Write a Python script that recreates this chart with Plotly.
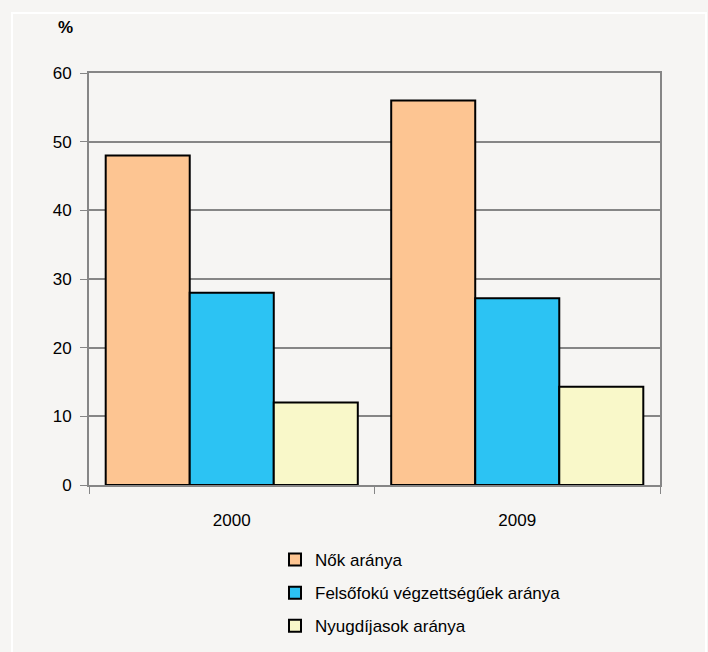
import plotly.graph_objects as go

# Chart data
years = ["2000", "2009"]
nok_aranya = [48, 56]
felsofoku_aranya = [28, 27.2]
nyugdijasok_aranya = [12, 14.3]

series_names = ["Nők aránya", "Felsőfokú végzettségűek aránya", "Nyugdíjasok aránya"]
series_values = [nok_aranya, felsofoku_aranya, nyugdijasok_aranya]
series_colors = ["#fdc592", "#2cc3f3", "#f9f8c9"]

y_ticks = [0, 10, 20, 30, 40, 50, 60]

BG = "#f6f5f3"
GRID = "#868686"
FONT = "Liberation Sans, Arial, sans-serif"

fig = go.Figure()
for i, (name, vals, col) in enumerate(zip(series_names, series_values, series_colors)):
    fig.add_trace(go.Bar(
        x=years, y=vals, name=name, legendgroup=f"g{i}",
        marker=dict(color=col, line=dict(color="#000000", width=2)),
    ))

fig.update_layout(
    width=708, height=652,
    margin=dict(l=89, r=48, t=73, b=167, autoexpand=False),
    paper_bgcolor=BG, plot_bgcolor=BG,
    barmode="group", bargap=0.117, bargroupgap=0,
    font=dict(family=FONT, size=17, color="#000000"),
    showlegend=True,
    legend=dict(
        xref="container", yref="container",
        x=275 / 708, y=1 - 542 / 652, xanchor="left", yanchor="top",
        bgcolor="rgba(0,0,0,0)", font=dict(size=17),
        tracegroupgap=8, itemwidth=30,
    ),
    xaxis=dict(
        type="category", tickson="boundaries", ticks="outside", ticklen=7,
        tickcolor=GRID, showline=True, linecolor=GRID, linewidth=2,
        mirror=True, showgrid=False, ticklabelstandoff=19,
        tickfont=dict(size=17),
    ),
    yaxis=dict(
        range=[0, 60], tickvals=y_ticks, ticks="outside", ticklen=7,
        tickcolor=GRID, showline=True, linecolor=GRID, linewidth=2,
        mirror=True, showgrid=True, gridcolor=GRID, gridwidth=1.5,
        zeroline=False, tickfont=dict(size=17), ticklabelstandoff=5,
    ),
    annotations=[dict(
        text="<b>%</b>", xref="paper", yref="paper",
        x=(65 - 89) / 571, y=(485 - 27) / 412,
        xanchor="center", yanchor="middle",
        showarrow=False, font=dict(size=17),
    )],
    shapes=[dict(
        type="rect", xref="paper", yref="paper",
        x0=(12 - 89) / 571, x1=(706 - 89) / 571,
        y0=(485 - 680) / 412, y1=(485 - 13) / 412,
        line=dict(color="#ffffff", width=2), layer="below",
    )],
)

fig.write_html("out.html")
